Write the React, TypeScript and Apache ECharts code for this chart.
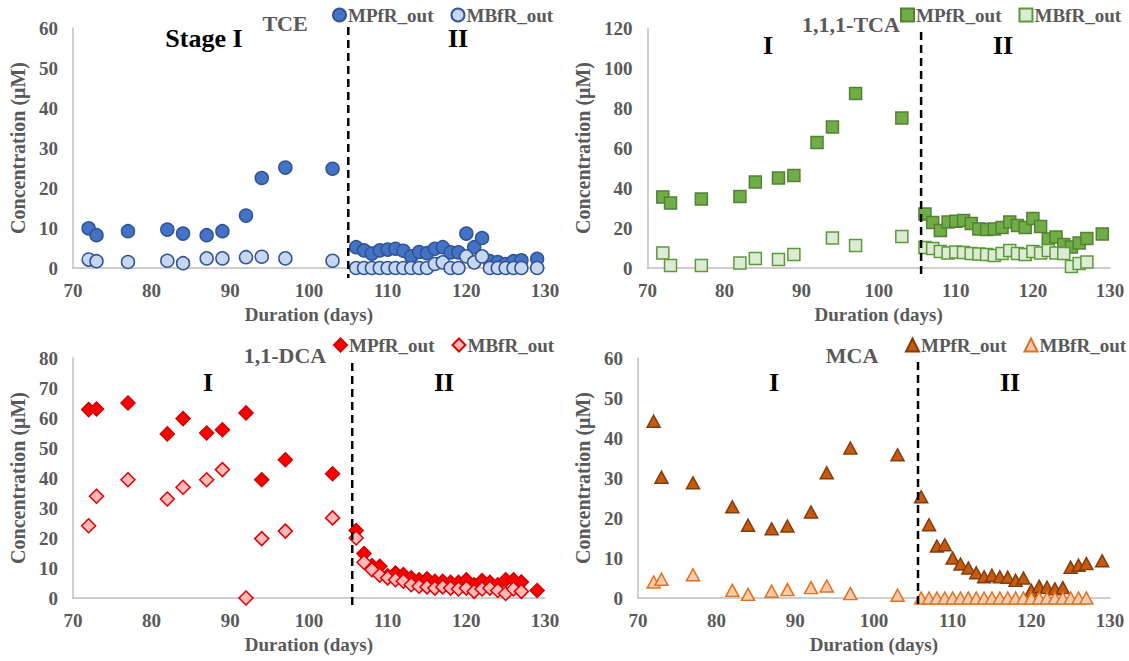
import React, { useEffect, useRef } from "react";
import * as echarts from "echarts";

// ---------------- DATA ----------------
const DAYS = [72, 73, 77, 82, 84, 87, 89, 92, 94, 97, 103, 106, 107, 108, 109, 110, 111, 112, 113, 114, 115, 116, 117, 118, 119, 120, 121, 122, 123, 124, 125, 126, 127, 129];
const X_TICKS = [70, 80, 90, 100, 110, 120, 130];

const TCE_MPFR = [9.9, 8.2, 9.2, 9.6, 8.6, 8.2, 9.2, 13.1, 22.5, 25.1, 24.8,
  5.2, 4.4, 3.6, 4.4, 4.6, 4.8, 4.3, 2.9, 4.0, 3.7, 4.8, 5.2, 3.9, 3.9, 8.6, 5.2, 7.5, 1.7, 1.5, 1.0, 1.7, 1.9, 2.3];
const TCE_MBFR = [2.1, 1.7, 1.5, 1.8, 1.2, 2.4, 2.4, 2.7, 2.8, 2.4, 1.8,
  0, 0, 0, 0, 0, 0, 0, 0, 0, 0, 1.0, 1.4, 0, 0, 2.9, 1.4, 2.9, 0, 0, 0, 0, 0, 0];

const TCA_MPFR = [35.5, 32.5, 34.5, 35.8, 43, 45, 46.2, 62.8, 70.5, 87.2, 75,
  27, 22.8, 18.7, 23, 23.4, 23.8, 22.2, 19.5, 19.2, 19.5, 20.3, 23, 21.2, 20.3, 24.7, 20.7, 14.5, 15.5, 11.7, 10.5, 12.5, 14.8, 17];
const TCA_MBFR = [7.5, 1.2, 1.2, 2.5, 4.7, 4.2, 6.7, null, 15, 11.2, 15.8,
  10.3, 9.7, 8.3, 7.5, 8, 7.8, 7.2, 7, 6.7, 6.3, 7.2, 8.8, 7.2, 6.7, 8.3, 7.5, 8.7, 7.5, 7.2, 0.8, 2.2, 3, null];

const DCA_MPFR = [62.8, 63, 65, 54.7, 59.8, 55, 56.1, 61.7, 39.4, 46.1, 41.4,
  22.5, 14.8, 10.8, 10.6, 7.4, 8.3, 7.8, 6.7, 6.1, 6.4, 5.6, 5.6, 5.2, 5.2, 6.1, 4.4, 5.8, 5.2, 4.4, 6.1, 6.1, 5.3, 2.5];
const DCA_MBFR = [24.1, 33.9, 39.4, 33, 36.9, 39.4, 42.8, 0, 19.8, 22.3, 26.7,
  20, 11.9, 9.4, 7.6, 6.7, 6.1, 5.6, 4.4, 3.9, 3.7, 3.3, 3.7, 3.3, 3.0, 3.3, 2.2, 3.0, 3.3, 2.5, 1.5, 3.0, 2.2, null];

const MCA_MPFR = [44.2, 30.2, 28.8, 22.8, 18.2, 17.3, 18, 21.5, 31.3, 37.5, 35.8,
  25.3, 18.3, 13, 13.3, 10, 8.5, 7.5, 6.3, 5.3, 5.7, 5.3, 5.2, 4.4, 5, 1.9, 2.9, 2.7, 2.3, 2.6, 7.7, 8.2, 8.6, 9.3];
const MCA_MBFR = [4, 4.7, 5.8, 1.9, 0.9, 1.7, 2.1, 2.6, 3, 1.1, 0.7,
  0, 0, 0, 0, 0, 0, 0, 0, 0, 0, 0, 0, 0, 0, 0, 0, 0, 0, 0, 0, 0, 0, null];

const SERIES_NAMES = ["MPfR_out", "MBfR_out"];
const Y_NAME = "Concentration (μM)";
const X_NAME = "Duration (days)";

// ---------------- STYLE ----------------
const FONT = "Liberation Serif, Times New Roman, serif";
const GRAY = "#595959";
const AXIS_COLOR = "#BFBFBF";

type Panel = {
  title: string;
  titleX: number;
  titleY: number;
  stageI: string;
  stageIX: number;
  stageIIX: number;
  stageY: number;
  legendLeft: number;
  yMax: number;
  yInterval: number;
  divider: number;
  dividerTopOffset: number;
  symbol: string;
  size: number | number[];
  a: (number | null)[];
  b: (number | null)[];
  aFill: string;
  aBorder: string;
  bFill: string;
  bBorder: string;
  pos: { left: number; top: number; width: number; height: number };
};

const PANELS: Panel[] = [
  {
    title: "TCE", titleX: 285, titleY: 23, stageI: "Stage I", stageIX: 204, stageIIX: 458, stageY: 38,
    legendLeft: 332, yMax: 60, yInterval: 10, divider: 105, dividerTopOffset: -1,
    symbol: "circle", size: 13, a: TCE_MPFR, b: TCE_MBFR,
    aFill: "#4472C4", aBorder: "#2F5597", bFill: "#C9D6EF", bBorder: "#2F5597",
    pos: { left: 0, top: 0, width: 565, height: 330 },
  },
  {
    title: "1,1,1-TCA", titleX: 286, titleY: 24, stageI: "I", stageIX: 203, stageIIX: 438, stageY: 45,
    legendLeft: 335, yMax: 120, yInterval: 20, divider: 105.5, dividerTopOffset: 4,
    symbol: "rect", size: 12, a: TCA_MPFR, b: TCA_MBFR,
    aFill: "#70AD47", aBorder: "#538135", bFill: "#DDEBD5", bBorder: "#5B9A3A",
    pos: { left: 565, top: 0, width: 564, height: 330 },
  },
  {
    title: "1,1-DCA", titleX: 285, titleY: 25, stageI: "I", stageIX: 208, stageIIX: 444, stageY: 52,
    legendLeft: 333, yMax: 80, yInterval: 10, divider: 105.5, dividerTopOffset: 5,
    symbol: "diamond", size: 14, a: DCA_MPFR, b: DCA_MBFR,
    aFill: "#FF0000", aBorder: "#D00000", bFill: "#FFB9B9", bBorder: "#E00000",
    pos: { left: 0, top: 330, width: 565, height: 331 },
  },
  {
    title: "MCA", titleX: 287, titleY: 25, stageI: "I", stageIX: 209, stageIIX: 445, stageY: 52,
    legendLeft: 340, yMax: 60, yInterval: 10, divider: 105.6, dividerTopOffset: 4,
    symbol: "triangle", size: [13, 12], a: MCA_MPFR, b: MCA_MBFR,
    aFill: "#C55A11", aBorder: "#843C0C", bFill: "#F8CBAD", bBorder: "#E2711D",
    pos: { left: 565, top: 330, width: 564, height: 331 },
  },
];

function pairs(vals: (number | null)[]) {
  const out: number[][] = [];
  DAYS.forEach((d, i) => {
    const v = vals[i];
    if (v !== null && v !== undefined) out.push([d, v]);
  });
  return out;
}

const labelStyle = { fontFamily: FONT, fontWeight: "bold" as const, color: GRAY };

function buildOption(p: Panel): any {
  return {
    animation: false,
    textStyle: { fontFamily: FONT },
    grid: { left: 68, top: 28, width: 477, height: 240 },
    xAxis: {
      type: "value",
      min: X_TICKS[0],
      max: X_TICKS[X_TICKS.length - 1],
      interval: 10,
      name: X_NAME,
      nameLocation: "middle",
      nameGap: 36,
      nameTextStyle: { ...labelStyle, fontSize: 19 },
      axisLine: { show: true, onZero: false, lineStyle: { color: AXIS_COLOR, width: 1.5 } },
      axisTick: { show: false },
      splitLine: { show: false },
      axisLabel: { ...labelStyle, fontSize: 19, margin: 13 },
    },
    yAxis: {
      type: "value",
      min: 0,
      max: p.yMax,
      interval: p.yInterval,
      name: Y_NAME,
      nameLocation: "middle",
      nameGap: 38,
      nameTextStyle: { ...labelStyle, fontSize: 20 },
      axisLine: { show: true, lineStyle: { color: AXIS_COLOR, width: 1.5 } },
      axisTick: { show: false },
      splitLine: { show: false },
      axisLabel: { ...labelStyle, fontSize: 19, margin: 15 },
    },
    legend: {
      left: p.legendLeft,
      top: 5,
      width: 260,
      padding: 0,
      itemWidth: 13,
      itemHeight: 13,
      itemGap: 17,
      data: SERIES_NAMES,
      textStyle: { ...labelStyle, fontSize: 19, lineHeight: 20, padding: [0, 0, 0, -3] },
    },
    series: [
      {
        type: "scatter",
        name: SERIES_NAMES[0],
        data: pairs(p.a),
        symbol: p.symbol,
        symbolSize: p.size,
        itemStyle: { color: p.aFill, borderColor: p.aBorder, borderWidth: 1.5, opacity: 1 },
      },
      {
        type: "scatter",
        name: SERIES_NAMES[1],
        data: pairs(p.b),
        symbol: p.symbol,
        symbolSize: p.size,
        itemStyle: { color: p.bFill, borderColor: p.bBorder, borderWidth: 1.5, opacity: 1 },
      },
    ],
  };
}

function textEl(text: string, x: number, y: number, size: number, color: string) {
  return {
    type: "text",
    x,
    y,
    z: 10,
    style: {
      text,
      fontFamily: FONT,
      fontWeight: "bold",
      fontSize: size,
      fill: color,
      align: "center",
      verticalAlign: "middle",
    },
  };
}

export default function App() {
  const refs = [useRef<HTMLDivElement>(null), useRef<HTMLDivElement>(null), useRef<HTMLDivElement>(null), useRef<HTMLDivElement>(null)];

  useEffect(() => {
    const charts: echarts.ECharts[] = [];
    PANELS.forEach((p, i) => {
      const el = refs[i].current;
      if (!el) return;
      const chart = echarts.init(el, null, { renderer: "svg" });
      charts.push(chart);
      chart.setOption(buildOption(p));
      const x = chart.convertToPixel({ xAxisIndex: 0 }, p.divider) as number;
      const yTop = chart.convertToPixel({ yAxisIndex: 0 }, p.yMax) as number;
      const yBottom = chart.convertToPixel({ yAxisIndex: 0 }, 0) as number;
      chart.setOption({
        graphic: [
          textEl(p.title, p.titleX, p.titleY, 22, GRAY),
          textEl(p.stageI, p.stageIX, p.stageY, 26, "#000000"),
          textEl("II", p.stageIIX, p.stageY, 26, "#000000"),
          {
            type: "line",
            z: 5,
            shape: { x1: x, y1: yTop + p.dividerTopOffset, x2: x, y2: yBottom + 10 },
            style: { stroke: "#000000", lineWidth: 2.5, lineDash: [8, 5] },
          },
        ],
      });
    });
    return () => {
      charts.forEach((c) => c.dispose());
    };
  }, []);

  return (
    <div style={{ position: "absolute", left: 0, top: 0, width: 1129, height: 661, background: "#ffffff" }}>
      {PANELS.map((p, i) => (
        <div
          key={p.title}
          ref={refs[i]}
          style={{ position: "absolute", left: p.pos.left, top: p.pos.top, width: p.pos.width, height: p.pos.height }}
        />
      ))}
    </div>
  );
}
